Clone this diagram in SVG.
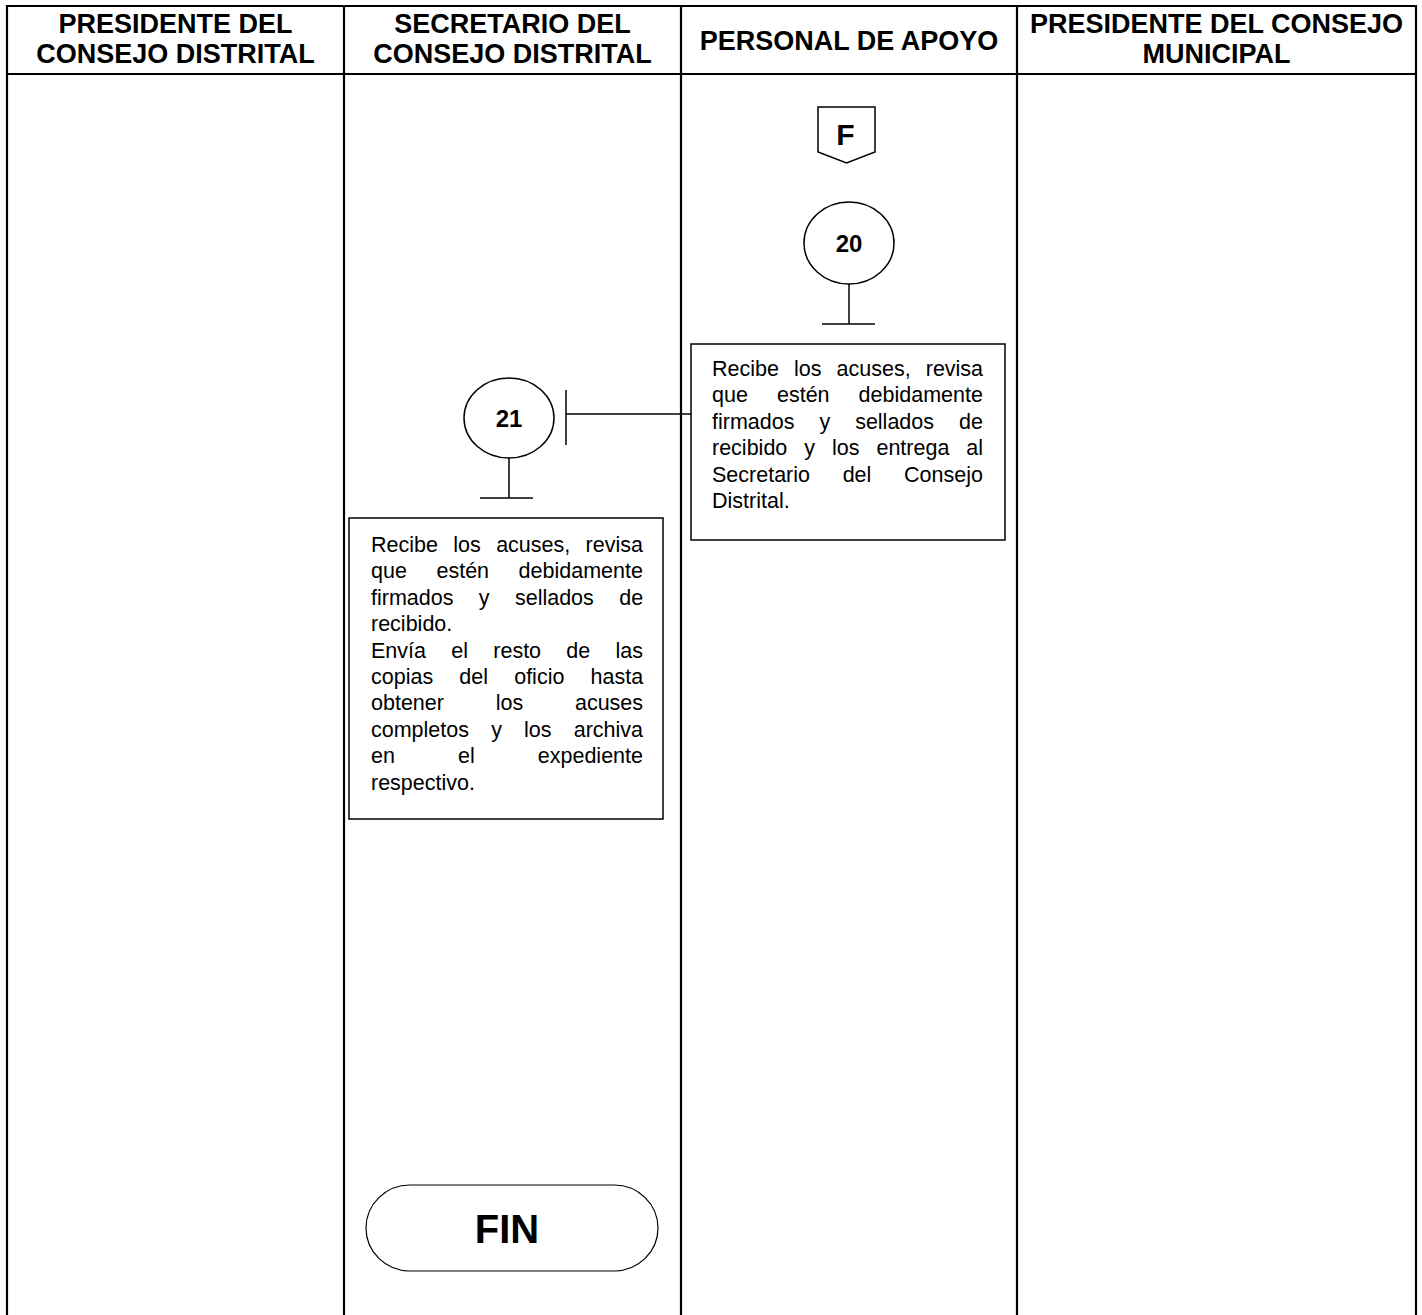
<svg xmlns="http://www.w3.org/2000/svg" width="1422" height="1315" viewBox="0 0 1422 1315">
  <style>
    .grid { stroke: #000; stroke-width: 2.2; fill: none; }
    .shape { stroke: #000; stroke-width: 1.5; fill: #fff; }
    .line { stroke: #000; stroke-width: 1.5; fill: none; }
    .head { font-family: "Liberation Sans", Arial, sans-serif; font-weight: bold; font-size: 27px; fill: #000; text-anchor: middle; }
    .num { font-family: "Liberation Sans", Arial, sans-serif; font-weight: bold; font-size: 24px; fill: #000; text-anchor: middle; }
    .body { font-family: "Liberation Sans", Arial, sans-serif; font-size: 21.5px; fill: #000; }
  </style>
  <rect width="1422" height="1315" fill="#fff"/>

  <!-- swimlane table -->
  <g id="lanes" class="grid">
    <line x1="6" y1="6" x2="1417" y2="6"/>
    <line x1="6" y1="74" x2="1417" y2="74"/>
    <line x1="7" y1="5" x2="7" y2="1315"/>
    <line x1="344" y1="5" x2="344" y2="1315"/>
    <line x1="681" y1="5" x2="681" y2="1315"/>
    <line x1="1017" y1="5" x2="1017" y2="1315"/>
    <line x1="1416" y1="5" x2="1416" y2="1315"/>
  </g>

  <g id="headers">
    <text class="head" x="175.5" y="33">PRESIDENTE DEL</text>
    <text class="head" x="175.5" y="63">CONSEJO DISTRITAL</text>
    <text class="head" x="512.5" y="33">SECRETARIO DEL</text>
    <text class="head" x="512.5" y="63">CONSEJO DISTRITAL</text>
    <text class="head" x="849" y="50">PERSONAL DE APOYO</text>
    <text class="head" x="1216.5" y="33">PRESIDENTE DEL CONSEJO</text>
    <text class="head" x="1216.5" y="63">MUNICIPAL</text>
  </g>

  <!-- off-page connector F -->
  <g id="connector-F">
    <polygon class="shape" points="818,107 875,107 875,152 846.5,163 818,152"/>
    <text class="num" x="845.5" y="145" style="font-size:30px">F</text>
  </g>

  <!-- step 20 -->
  <g id="step-20">
    <ellipse class="shape" cx="849" cy="243" rx="45" ry="41"/>
    <text class="num" x="849" y="252">20</text>
    <line class="line" x1="849" y1="284" x2="849" y2="324"/>
    <line class="line" x1="822" y1="324" x2="875" y2="324"/>
  </g>

  <g id="task-20">
    <rect class="shape" x="691" y="344" width="314" height="196"/>
    <text class="body">
      <tspan x="712" y="376" word-spacing="9.1">Recibe los acuses, revisa</tspan>
      <tspan x="712" y="402.4" word-spacing="23.1">que estén debidamente</tspan>
      <tspan x="712" y="428.8" word-spacing="19">firmados y sellados de</tspan>
      <tspan x="712" y="455.2" word-spacing="11">recibido y los entrega al</tspan>
      <tspan x="712" y="481.6" word-spacing="26.7">Secretario del Consejo</tspan>
      <tspan x="712" y="508">Distrital.</tspan>
    </text>
  </g>

  <!-- step 21 -->
  <g id="step-21">
    <ellipse class="shape" cx="509" cy="418" rx="45" ry="40"/>
    <text class="num" x="509" y="427">21</text>
    <line class="line" x1="509" y1="458" x2="509" y2="498"/>
    <line class="line" x1="480" y1="498" x2="533" y2="498"/>
  </g>

  <g id="task-21">
    <rect class="shape" x="349" y="518" width="314" height="301"/>
    <text class="body">
      <tspan x="371" y="552" word-spacing="9.4">Recibe los acuses, revisa</tspan>
      <tspan x="371" y="578.4" word-spacing="23.6">que estén debidamente</tspan>
      <tspan x="371" y="604.8" word-spacing="19.4">firmados y sellados de</tspan>
      <tspan x="371" y="631.2">recibido.</tspan>
      <tspan x="371" y="657.6" word-spacing="19.3">Envía el resto de las</tspan>
      <tspan x="371" y="684" word-spacing="20.2">copias del oficio hasta</tspan>
      <tspan x="371" y="710.4" word-spacing="45.8">obtener los acuses</tspan>
      <tspan x="371" y="736.8" word-spacing="16.2">completos y los archiva</tspan>
      <tspan x="371" y="763.2" word-spacing="57.1">en el expediente</tspan>
      <tspan x="371" y="789.6">respectivo.</tspan>
    </text>
  </g>

  <!-- end terminal -->
  <g id="end">
    <rect class="shape" x="366" y="1185" width="292" height="86" rx="44" ry="43" style="stroke-width:1.2"/>
    <text class="num" x="507" y="1243" style="font-size:40px">FIN</text>
  </g>

  <!-- flow connectors -->
  <g id="connectors" class="line">
    <line x1="566" y1="414" x2="691" y2="414"/>
    <line x1="566" y1="390" x2="566" y2="445"/>
  </g>
</svg>
